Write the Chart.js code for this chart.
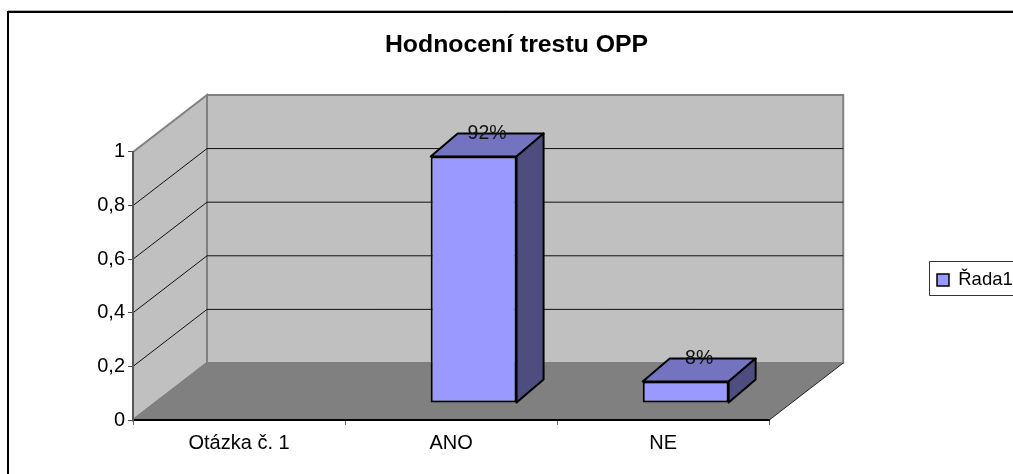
<!DOCTYPE html>
<html>
<head>
    <title>Hodnocení trestu OPP</title>
    <script src="https://cdn.jsdelivr.net/npm/chart.js"></script>
    <style>
        html, body { margin: 0; padding: 0; background: #fff; overflow: hidden; }
        canvas { display: block; }
    </style>
</head>
<body>
    <canvas id="chart" width="1013" height="474"></canvas>
    <script>
        const categories = ['Otázka č. 1', 'ANO', 'NE'];
        const seriesName = 'Řada1';
        const seriesValues = [null, 0.92, 0.08];
        const barLabels = ['', '92%', '8%'];
        const yTickLabels = ['0', '0,2', '0,4', '0,6', '0,8', '1'];

        const fontFamily = '"Liberation Sans", Arial, sans-serif';
        const wallDepth = { x: 74, y: 57 };   // floor depth in px
        const barOffset = { x: 22.5, y: 17 }; // where the bar sits on the floor
        const barDepth = { x: 27, y: 23 };

        function poly(ctx, pts, fill, stroke, width) {
            ctx.beginPath();
            pts.forEach((p, i) => i ? ctx.lineTo(p[0], p[1]) : ctx.moveTo(p[0], p[1]));
            ctx.closePath();
            if (fill) { ctx.fillStyle = fill; ctx.fill(); }
            if (stroke) { ctx.strokeStyle = stroke; ctx.lineWidth = width; ctx.stroke(); }
        }

        // fake 3D box: frame, walls and floor go under the scales, bar sides under the bars
        const box3d = {
            id: 'box3d',
            afterLayout(chart) {
                const legend = chart.legend;
                legend.left = 931; legend.right = 1013;
                legend.top -= 6; legend.bottom -= 6;
            },
            beforeDraw(chart) {
                const ctx = chart.ctx, x = chart.scales.x, y = chart.scales.y;
                const l = x.left, r = x.right, t = y.getPixelForValue(1), b = y.getPixelForValue(0);
                const dx = wallDepth.x, dy = wallDepth.y;

                ctx.save();
                ctx.fillStyle = '#fff';
                ctx.fillRect(0, 0, chart.width, chart.height);

                // outer chart frame, runs off the picture on the right and bottom
                ctx.strokeStyle = '#b0b0b0'; ctx.lineWidth = 1;
                ctx.beginPath(); ctx.moveTo(8, 10.5); ctx.lineTo(1013, 10.5); ctx.stroke();
                ctx.strokeStyle = '#000'; ctx.lineWidth = 2;
                ctx.beginPath(); ctx.moveTo(8, 474); ctx.lineTo(8, 12); ctx.lineTo(1013, 12); ctx.stroke();

                // back wall and side wall
                poly(ctx, [[l + dx, t - dy], [r + dx, t - dy], [r + dx, b - dy], [l + dx, b - dy]], '#c0c0c0', '#808080', 2);
                poly(ctx, [[l, t], [l + dx, t - dy], [l + dx, b - dy], [l, b]], '#c0c0c0', '#808080', 2);

                // floor
                poly(ctx, [[l, b], [l + dx, b - dy], [r + dx, b - dy], [r, b]], '#808080');
                ctx.strokeStyle = '#808080'; ctx.lineWidth = 2;
                ctx.beginPath(); ctx.moveTo(l, b); ctx.lineTo(l + dx, b - dy); ctx.lineTo(r + dx, b - dy); ctx.stroke();
                ctx.strokeStyle = '#222'; ctx.lineWidth = 1;
                ctx.beginPath(); ctx.moveTo(r, b); ctx.lineTo(r + dx, b - dy); ctx.stroke();

                // gridlines on both walls
                ctx.strokeStyle = '#111'; ctx.lineWidth = 1;
                y.ticks.forEach(tick => {
                    if (tick.value === 0 || tick.value === 1) return;
                    const py = y.getPixelForValue(tick.value);
                    ctx.beginPath();
                    ctx.moveTo(l, py);
                    ctx.lineTo(l + dx, py - dy);
                    ctx.lineTo(r + dx, py - dy);
                    ctx.stroke();
                });

                ctx.restore();
            },
            beforeDatasetsDraw(chart) {
                const ctx = chart.ctx;
                ctx.save();
                ctx.translate(barOffset.x, -barOffset.y);
                chart.getDatasetMeta(0).data.forEach((bar, i) => {
                    if (seriesValues[i] === null) return;
                    const left = bar.x - bar.width / 2, right = bar.x + bar.width / 2;
                    const dx = barDepth.x, dy = barDepth.y;
                    ctx.lineJoin = 'round';
                    poly(ctx, [[left, bar.y], [left + dx, bar.y - dy], [right + dx, bar.y - dy], [right, bar.y]], '#7373bf', '#000', 2);
                    poly(ctx, [[right, bar.y], [right + dx, bar.y - dy], [right + dx, bar.base - dy], [right, bar.base]], '#4d4d80', '#000', 2);
                });
            },
            afterDatasetsDraw(chart) {
                const ctx = chart.ctx;
                chart.getDatasetMeta(0).data.forEach((bar, i) => {
                    if (!barLabels[i]) return;
                    ctx.fillStyle = '#111';
                    ctx.font = '19.5px ' + fontFamily;
                    ctx.textAlign = 'center';
                    ctx.textBaseline = 'middle';
                    ctx.fillText(barLabels[i], bar.x + barDepth.x / 2, bar.y - barDepth.y);
                });
                ctx.restore();

                // legend frame
                ctx.save();
                ctx.strokeStyle = '#333'; ctx.lineWidth = 1;
                ctx.beginPath();
                ctx.moveTo(1013, 261.5); ctx.lineTo(929.5, 261.5); ctx.lineTo(929.5, 295.5); ctx.lineTo(1013, 295.5);
                ctx.stroke();
                ctx.restore();
            }
        };

        new Chart(document.getElementById('chart').getContext('2d'), {
            type: 'bar',
            data: {
                labels: categories,
                datasets: [{
                    label: seriesName,
                    data: seriesValues,
                    backgroundColor: '#9999ff',
                    borderColor: '#000',
                    borderWidth: 2,
                    borderSkipped: false,
                    barPercentage: 0.405,
                    categoryPercentage: 1
                }]
            },
            plugins: [box3d],
            options: {
                responsive: false,
                animation: false,
                layout: { padding: { left: 20, right: 0, top: 0, bottom: 0 } },
                plugins: {
                    tooltip: { enabled: false },
                    title: {
                        display: true,
                        text: 'Hodnocení trestu OPP',
                        color: '#000',
                        font: { family: fontFamily, size: 24.8, weight: 'bold', lineHeight: 1.2 },
                        padding: { top: 30, bottom: 92.2 }
                    },
                    legend: {
                        position: 'right',
                        fullSize: false,
                        labels: {
                            color: '#000',
                            font: { family: fontFamily, size: 18.5 },
                            boxWidth: 12,
                            boxHeight: 12,
                            padding: 6,
                            generateLabels: () => [{
                                text: seriesName,
                                fillStyle: '#9999ff',
                                strokeStyle: '#000',
                                lineWidth: 1.5,
                                datasetIndex: 0
                            }]
                        }
                    }
                },
                scales: {
                    x: {
                        grid: { drawOnChartArea: false, drawTicks: true, tickLength: 5, color: '#666', offset: true },
                        border: { color: '#000', width: 2 },
                        ticks: { color: '#000', font: { family: fontFamily, size: 20 }, padding: 6, maxRotation: 0, autoSkip: false },
                        afterFit: s => { s.height = 54; }
                    },
                    y: {
                        min: 0,
                        max: 1,
                        grid: { drawOnChartArea: false, drawTicks: true, tickLength: 5, color: '#444' },
                        border: { color: '#555', width: 2 },
                        ticks: {
                            stepSize: 0.2,
                            color: '#000',
                            font: { family: fontFamily, size: 20 },
                            padding: 3,
                            callback: (v, i) => yTickLabels[i]
                        },
                        afterFit: s => { s.width = 113; }
                    },
                    // empty space between the plot and the legend
                    gap: {
                        position: 'right',
                        grid: { display: false },
                        border: { display: false },
                        ticks: { display: false },
                        afterFit: s => { s.width = 152; }
                    }
                }
            }
        });
    </script>
</body>
</html>
